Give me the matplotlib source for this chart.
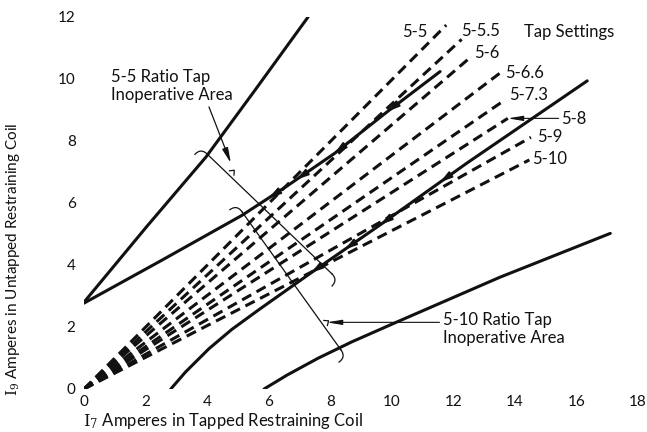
import numpy as np
import matplotlib.pyplot as plt

plt.rcParams['font.family'] = ['Lato', 'DejaVu Sans']
plt.rcParams['mathtext.fontset'] = 'dejavuserif'

# dashed tap-setting lines, all drawn from the origin
tap_names = ['5-5', '5-5.5', '5-6', '5-6.6', '5-7.3', '5-8', '5-9', '5-10']
tap_end_x = [11.77, 12.27, 12.52, 13.50, 13.67, 13.77, 14.52, 14.47]
tap_end_y = [11.74, 11.28, 10.67, 10.18, 9.32, 8.73, 8.12, 7.39]
tap_label_x = [10.74, 12.88, 13.08, 14.33, 14.45, 15.91, 15.14, 15.12]
tap_label_y = [11.53, 11.56, 10.83, 10.20, 9.48, 8.70, 8.12, 7.41]

# solid boundary curves
upper_x = [0.0, 2.03, 3.96, 5.60, 7.28]
upper_y = [2.80, 5.23, 7.48, 9.70, 12.0]
upper_low_x = [0.0, 2.54, 5.13, 6.60, 8.14, 9.86, 11.57]
upper_low_y = [2.77, 4.16, 5.60, 6.55, 7.60, 8.95, 10.24]
lower_up_x = [2.82, 3.30, 4.06, 4.80, 5.67, 7.38, 9.63, 12.43, 16.35]
lower_up_y = [0.0, 0.55, 1.30, 1.92, 2.55, 3.75, 5.30, 7.28, 9.94]
lower_x = [5.85, 6.60, 7.60, 8.70, 10.07, 13.50, 17.10]
lower_y = [0.0, 0.45, 0.99, 1.52, 2.12, 3.60, 5.02]

# little arrowheads sitting on the solid curves (x positions)
arrows_upper_low = [6.0, 6.9, 8.14, 9.86]
arrows_lower_up = [7.38, 8.47, 9.63, 11.57]

# brackets marking the inoperative areas: upper end, lower end, middle tick
bracket_55 = [(4.0, 7.58), (8.05, 3.72), (4.8, 6.97)]
bracket_510 = [(5.13, 5.72), (8.35, 1.26), (7.85, 2.13)]

ink = '#111111'

fig = plt.figure(figsize=(6.47, 4.32), dpi=100)
ax = fig.add_axes([84 / 647, 43 / 432, 554 / 647, 372 / 432])
ax.set_xlim(0, 18)
ax.set_ylim(0, 12)
for s in ax.spines.values():
    s.set_visible(False)

# solid curves
for cx, cy in [(upper_x, upper_y), (upper_low_x, upper_low_y),
               (lower_up_x, lower_up_y), (lower_x, lower_y)]:
    ax.plot(cx, cy, color=ink, lw=2.2, solid_capstyle='round',
            solid_joinstyle='round')

# dashed tap lines
for xe, ye in zip(tap_end_x, tap_end_y):
    ax.plot([0, xe], [0, ye], color=ink, lw=2.2, dashes=(3.4, 2.0))

for name, lx, ly in zip(tap_names, tap_label_x, tap_label_y):
    ax.text(lx, ly, name, ha='center', va='center', fontsize=12, color=ink)

ax.text(14.31, 11.5, 'Tap Settings', ha='left', va='center', fontsize=12, color=ink)


def curve_arrows(cx, cy, xs):
    for x0 in xs:
        y0 = np.interp(x0, cx, cy)
        x1 = x0 + 0.5
        y1 = np.interp(x1, cx, cy)
        ax.annotate('', xy=(x0, y0), xytext=(x1, y1),
                    arrowprops=dict(arrowstyle='-|>,head_length=0.7,head_width=0.2',
                                    color=ink, lw=1.4, shrinkA=0, shrinkB=0))


curve_arrows(upper_low_x, upper_low_y, arrows_upper_low)
curve_arrows(lower_up_x, lower_up_y, arrows_lower_up)


def bracket(p0, p1, pm, k=0.28):
    p0, p1, pm = np.array(p0), np.array(p1), np.array(pm)
    ax.plot([p0[0], p1[0]], [p0[1], p1[1]], color=ink, lw=0.9)
    d = (p1 - p0) / np.linalg.norm(p1 - p0)
    n = np.array([d[1], -d[0]])
    t = np.linspace(0, 1, 12)[:, None]
    for end, out in [(p0, -d), (p1, d)]:
        c = end + k * out
        tip = c + k * n
        pts = (1 - t) ** 2 * end + 2 * (1 - t) * t * c + t ** 2 * tip
        ax.plot(pts[:, 0], pts[:, 1], color=ink, lw=0.9)
    tick = np.array([pm - 0.1 * d, pm - 0.12 * n, pm + 0.1 * d])
    ax.plot(tick[:, 0], tick[:, 1], color=ink, lw=0.9)


bracket(*bracket_55)
bracket(*bracket_510)

ax.text(0.87, 9.77, '5-5 Ratio Tap\nInoperative Area', ha='left', va='center',
        fontsize=12, linespacing=1.1, color=ink)
ax.annotate('', xy=(4.77, 7.29), xytext=(4.06, 9.1),
            arrowprops=dict(arrowstyle='-|>,head_length=0.9,head_width=0.18',
                            color=ink, lw=0.9, shrinkA=0, shrinkB=0))

ax.text(11.68, 1.94, '5-10 Ratio Tap\nInoperative Area', ha='left', va='center',
        fontsize=12, linespacing=1.1, color=ink)
ax.annotate('', xy=(7.89, 2.15), xytext=(11.55, 2.15),
            arrowprops=dict(arrowstyle='-|>,head_length=0.9,head_width=0.15',
                            color=ink, lw=0.8, shrinkA=0, shrinkB=0))

# leader for the 5-8 label
ax.annotate('', xy=(13.77, 8.73), xytext=(15.42, 8.73),
            arrowprops=dict(arrowstyle='-|>,head_length=0.9,head_width=0.15',
                            color=ink, lw=0.8, shrinkA=0, shrinkB=0))

ax.set_xticks(range(0, 19, 2))
ax.set_yticks(range(0, 13, 2))
ax.tick_params(length=0, labelsize=11, colors=ink)
ax.tick_params(axis='x', pad=4)
ax.tick_params(axis='y', pad=6)

ax.set_xlabel(r'$\mathrm{I}_7$ Amperes in Tapped Restraining Coil', loc='left',
              fontsize=12, color=ink)
ax.xaxis.set_label_coords(-0.002, -0.06)
ax.set_ylabel(r'$\mathrm{I}_9$ Amperes in Untapped Restraining Coil', loc='bottom',
              fontsize=11, color=ink)
ax.yaxis.set_label_coords(-0.112, -0.02)

fig.savefig('out.png', dpi=100)
